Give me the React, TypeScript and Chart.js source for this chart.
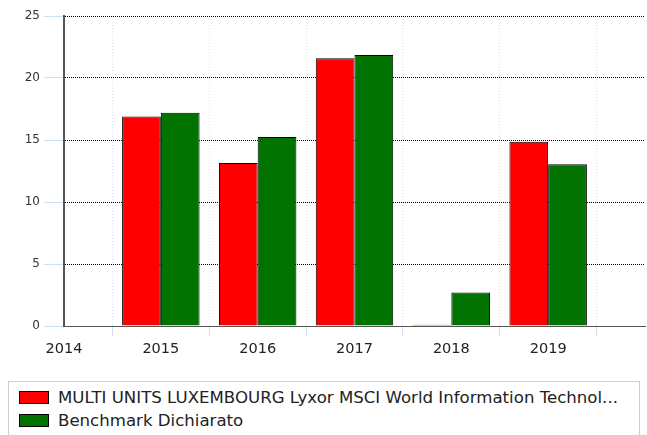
import React, { useEffect, useRef } from "react";
import { Chart, registerables } from "chart.js";

Chart.register(...registerables);

const years = ["2014", "2015", "2016", "2017", "2018", "2019", "2020"];
const fundValues = [null, 16.9, 13.15, 21.6, 0.1, 14.85, null];
const benchValues = [null, 17.2, 15.25, 21.85, 2.7, 13.05, null];
const yTicks = [0, 5, 10, 15, 20, 25];
const fundLabel = "MULTI UNITS LUXEMBOURG Lyxor MSCI World Information Technol...";
const benchLabel = "Benchmark Dichiarato";
const fundColor = "#ff0000";
const benchColor = "#007300";

export default function App() {
  const ref = useRef<HTMLCanvasElement | null>(null);
  useEffect(() => {
    document.body.style.margin = "0";
    const chart = new Chart(ref.current as HTMLCanvasElement, {
      type: "bar",
      data: {
        labels: years,
        datasets: [
          { label: fundLabel, data: fundValues as any, backgroundColor: fundColor, borderColor: "#000", borderWidth: 1, categoryPercentage: 0.8, barPercentage: 1.0 },
          { label: benchLabel, data: benchValues as any, backgroundColor: benchColor, borderColor: "#000", borderWidth: 1, categoryPercentage: 0.8, barPercentage: 1.0 },
        ],
      },
      options: {
        animation: false,
        responsive: true,
        maintainAspectRatio: false,
        layout: { padding: { top: 16, right: 2, left: 0, bottom: 0 } },
        plugins: { legend: { display: false }, tooltip: { enabled: false } },
        scales: {
          x: {
            type: "category",
            offset: false,
            grid: { color: "#d6e4f5", tickColor: "#cfe0f3", tickLength: 10, drawOnChartArea: true, tickBorderDash: [] },
            border: { display: true, color: "#555", width: 1, dash: [1, 2] },
            ticks: {
              font: { family: "DejaVu Sans", size: 14.5 },
              color: "#222",
              padding: 5,
              autoSkip: false,
              maxRotation: 0,
              callback: (_v: any, i: number) => (i === years.length - 1 ? "" : years[i]),
            },
            afterFit: (s: any) => { s.height = 46; s.paddingRight = 0; s.paddingLeft = 0; },
          },
          y: {
            min: 0,
            max: 25,
            afterBuildTicks: (s: any) => { s.ticks = yTicks.map((v) => ({ value: v })); },
            grid: {
              color: (ctx: any) => (ctx.tick && ctx.tick.value === 0 ? "rgba(0,0,0,0)" : "#000"),
              tickColor: "#cfe0f3",
              tickLength: 20,
            },
            border: { display: true, color: "#555", width: 2, dash: [1, 1] },
            ticks: { font: { family: "DejaVu Sans", size: 12 }, color: "#333", padding: 4 },
            afterFit: (s: any) => { s.width = 64; },
          },
        },
      },
    });
    return () => chart.destroy();
  }, []);

  const item = (color: string, text: string) => (
    <div style={{ display: "flex", alignItems: "center", height: 23 }}>
      <div style={{ width: 28, height: 11, background: color, border: "1px solid #000", marginRight: 9 }} />
      <span>{text}</span>
    </div>
  );

  return (
    <div style={{ position: "absolute", left: 0, top: 0, width: 647, height: 435, background: "#fff" }}>
      <div style={{ position: "absolute", left: 0, top: 0, width: 647, height: 372 }}>
        <canvas ref={ref} />
      </div>
      <div
        style={{
          position: "absolute",
          left: 8,
          top: 381,
          width: 632,
          height: 60,
          border: "1px solid #cfcfcf",
          boxSizing: "border-box",
          padding: "4px 0 0 10px",
          fontFamily: "DejaVu Sans",
          fontSize: 16.6,
          color: "#222",
          whiteSpace: "nowrap",
        }}
      >
        {item(fundColor, fundLabel)}
        {item(benchColor, benchLabel)}
      </div>
    </div>
  );
}
